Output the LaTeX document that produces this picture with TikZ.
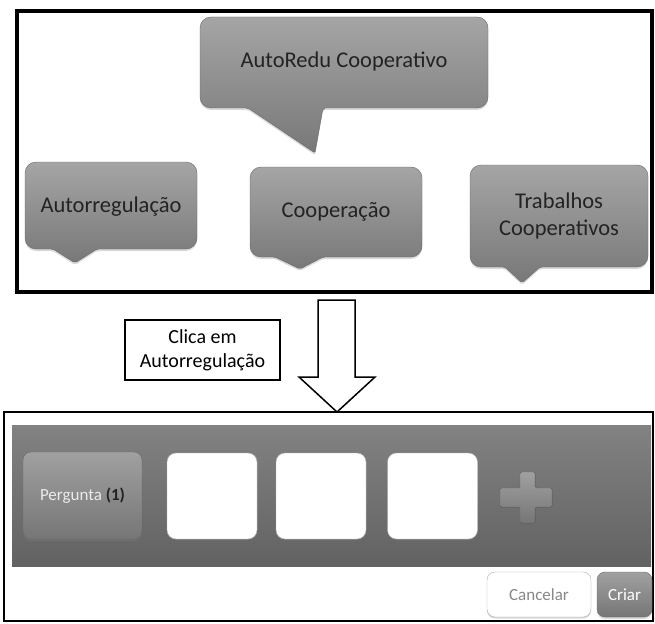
\documentclass[tikz,border=0pt]{standalone}
\usepackage{fontspec}
\setmainfont{Carlito}
\usetikzlibrary{shadows,positioning}
\definecolor{balao claro}{RGB}{165, 165, 165}
\definecolor{balao escuro}{RGB}{120, 120, 120}
\definecolor{borda balao}{RGB}{105, 105, 105}
\definecolor{faixa clara}{RGB}{130, 130, 130}
\definecolor{faixa escura}{RGB}{98, 98, 98}
\definecolor{texto escuro}{RGB}{35, 35, 35}
\definecolor{botao claro}{RGB}{160, 160, 160}
\definecolor{botao escuro}{RGB}{118, 118, 118}
\definecolor{texto cinza}{RGB}{135, 135, 135}
\definecolor{borda clara}{RGB}{175, 175, 175}

% caixa: x1 y1 x2 y2, cauda: base direita, ponta x, ponta y, base esquerda
\newcommand\balao[8]{%
    \path[balao] (#1,#2) -- (#3,#2) -- (#3,#4) [rounded corners=2pt] -- (#5,#4)
        -- (#6,#7) -- (#8,#4) [rounded corners=11pt] -- (#1,#4) -- cycle;}

\begin{document}
\begin{tikzpicture}[
        x=1pt, y=-1pt,
        balao/.style={
            rounded corners=11pt,
            top color=balao claro,
            bottom color=balao escuro,
            draw=borda balao,
            line width=0.4pt,
            drop shadow={opacity=0.3, shadow xshift=0pt, shadow yshift=-2pt}
        },
        rotulo/.style={
            text=texto escuro,
            font=\fontsize{22.5}{27}\selectfont,
            align=center
        },
        moldura/.style={draw=black, line width=3.5pt, inner sep=0pt},
        moldura fina/.style={draw=black, line width=2pt, inner sep=0pt},
        legenda/.style={
            draw=black, line width=1.5pt, inner sep=0pt,
            minimum width=155pt, minimum height=60pt,
            align=center, font=\fontsize{20}{24}\selectfont
        },
        faixa/.style={
            inner sep=0pt,
            top color=faixa clara, bottom color=faixa escura
        },
        cartao/.style={
            rounded corners=9pt, inner sep=0pt,
            minimum width=90pt, minimum height=86pt,
            fill=white, draw=borda clara, line width=0.4pt,
            drop shadow={opacity=0.25, shadow xshift=0pt, shadow yshift=-1.5pt}
        },
        botao/.style={
            rounded corners=8pt, inner sep=0pt,
            top color=botao claro, bottom color=botao escuro,
            draw=borda balao, line width=0.4pt,
            drop shadow={opacity=0.3, shadow xshift=0pt, shadow yshift=-2pt},
            font=\fontsize{17}{20}\selectfont
        },
        seta/.style={draw=black, line width=1.5pt, fill=white, line join=miter}
    ]
    \useasboundingbox (0,0) rectangle (655,623);

    \node[moldura, minimum width=635pt, minimum height=281pt] (painel) at (334.5,151.5) {};

    \balao{200}{17}{488}{108}{323}{315}{153}{248}
    \balao{25}{162}{197}{249}{97}{75}{263}{53}
    \balao{250}{167}{422}{257}{323}{300}{269}{275}
    \balao{470}{165}{648}{267}{540}{522}{283}{505}

    \node[rotulo] (autoredu) at (344,62) {AutoRedu Cooperativo};
    \node[rotulo] (autorregulacao) at (111,207) {Autorregulação};
    \node[rotulo] (cooperacao) at (336,212) {Cooperação};
    \node[rotulo] (trabalhos) at (559,216) {Trabalhos\\Cooperativos};

    \node[legenda] (clica) at (202.5,350) {Clica em\\Autorregulação};

    \coordinate (ponta) at (337,412);
    \draw[seta] (318,300) -- (355,300) -- (355,377) -- (375,377) -- (ponta)
        -- (299,377) -- (318,377) -- cycle;

    \node[moldura fina, minimum width=649pt, minimum height=209pt] (janela) at (328.5,516.5) {};
    \node[faixa, minimum width=639pt, minimum height=141pt] (faixa) at (331.5,495.5) {};

    \node[botao, minimum width=119pt, minimum height=87pt]
        (pergunta) at (82.5,495.5) {\textcolor{white!92!black}{Pergunta} \textcolor{texto escuro}{\textbf{(1)}}};
    \foreach \nome/\cx in {vazio1/212, vazio2/321, vazio3/432.5}
        \node[cartao] (\nome) at (\cx,496) {};

    \fill[top color=botao claro, bottom color=botao escuro, draw=borda balao, line width=0.4pt,
        rounded corners=1.5pt]
        (520,472) -- (535,472) -- (535,488) -- (552,488) -- (552,507) -- (535,507)
        -- (535,523) -- (520,523) -- (520,507) -- (500,507) -- (500,488) -- (520,488) -- cycle;

    \node[cartao, minimum width=104pt, minimum height=45pt, rounded corners=8pt,
        text=texto cinza, font=\fontsize{17}{20}\selectfont,
        drop shadow={opacity=0.15, shadow xshift=0pt, shadow yshift=-1pt}]
        (cancelar) at (539,594.5) {Cancelar};
    \node[botao, minimum width=55pt, minimum height=45pt, text=white]
        (criar) at (624.5,594.5) {Criar};
\end{tikzpicture}
\end{document}
